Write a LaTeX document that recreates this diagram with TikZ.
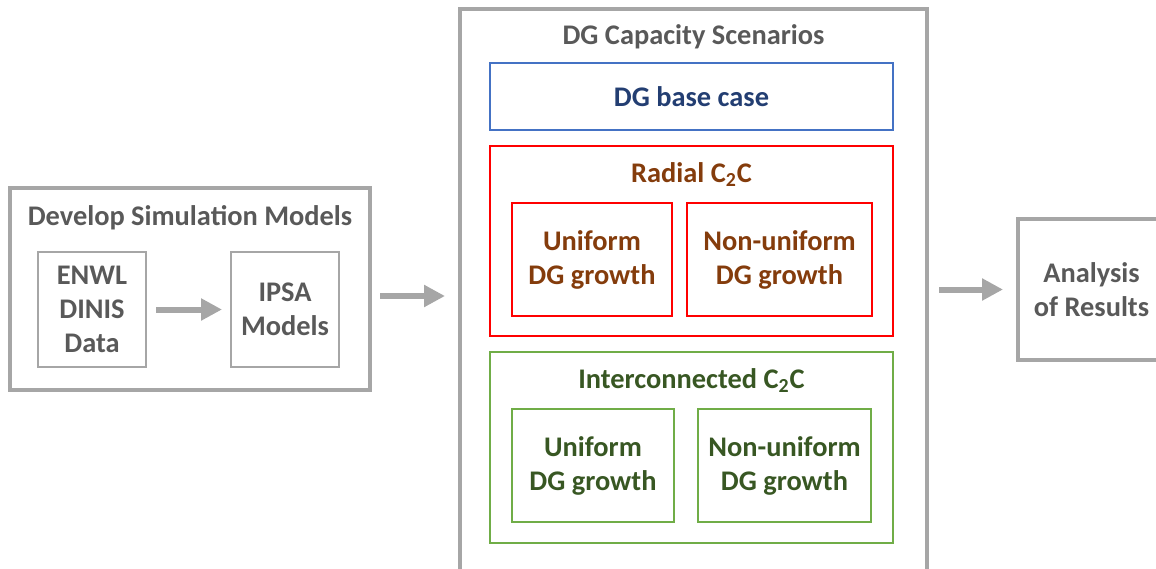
\documentclass[tikz,border=0pt]{standalone}
\usepackage{fontspec}
\setmainfont{Carlito}
\usetikzlibrary{positioning, arrows.meta}
\definecolor{boxGrey}{RGB}{166,166,166}
\definecolor{textGrey}{RGB}{89,89,89}
\definecolor{baseBlue}{RGB}{68,114,196}
\definecolor{baseText}{RGB}{35,62,114}
\definecolor{radialRed}{RGB}{255,0,0}
\definecolor{radialText}{RGB}{132,60,12}
\definecolor{interGreen}{RGB}{112,173,71}
\definecolor{interText}{RGB}{56,87,35}

\begin{document}
\begin{tikzpicture}[
  x=0.5pt, y=-0.5pt,
  font=\bfseries\fontsize{14.2}{17}\selectfont,
  outerbox/.style={draw=boxGrey, line width=2pt, inner sep=0pt},
  greybox/.style={draw=boxGrey, line width=1pt, text=textGrey, align=center, inner sep=0pt},
  basebox/.style={draw=baseBlue, line width=1pt, text=baseText, align=center, inner sep=0pt},
  redbox/.style={draw=radialRed, line width=1pt, text=radialText, align=center, inner sep=0pt},
  greenbox/.style={draw=interGreen, line width=1pt, text=interText, align=center, inner sep=0pt},
  heading/.style={anchor=base, inner sep=0pt},
  flow/.style={draw=boxGrey, line width=3pt, -{Triangle[length=10.5pt, width=10.5pt]}},
]
% canvas in pixels of the reference (y grows downwards)
\useasboundingbox (0,0) rectangle (1156,568);
\clip (0,0) rectangle (1156,568);

% Develop simulation models
\node[outerbox, minimum width=180pt, minimum height=101pt] (develop) at (190,289) {};
\node[heading, text=textGrey] (devtitle) at (190,225) {Develop Simulation Models};
\node[greybox, minimum width=54pt, minimum height=57.5pt] (enwl) at (92,309.5) {ENWL\\DINIS\\Data};
\node[greybox, minimum width=54pt, minimum height=57.5pt] (ipsa) at (285,309.5) {IPSA\\Models};

% DG capacity scenarios
\node[outerbox, minimum width=233.5pt, minimum height=295.5pt] (scen) at (693.5,304.5) {};
\node[heading, text=textGrey] (scentitle) at (693.5,44) {DG Capacity Scenarios};
\node[basebox, minimum width=201.5pt, minimum height=33.5pt] (base) at (691.5,96.5) {DG base case};

% Radial C2C
\node[redbox, minimum width=201.5pt, minimum height=95pt] (radial) at (691.5,241) {};
\node[heading, text=radialText] (radtitle) at (691.5,182) {Radial C\textsubscript{2}C};
\node[redbox, minimum width=80pt, minimum height=56.5pt] (radunif) at (592,259.5) {Uniform\\DG growth};
\node[redbox, minimum width=92.5pt, minimum height=56.5pt] (radnonunif) at (779.5,259.5) {Non-uniform\\DG growth};

% Interconnected C2C
\node[greenbox, minimum width=201.5pt, minimum height=95.5pt] (inter) at (691.5,447.5) {};
\node[heading, text=interText] (intertitle) at (691.5,388) {Interconnected C\textsubscript{2}C};
\node[greenbox, minimum width=81pt, minimum height=56.5pt] (intunif) at (593,465.5) {Uniform\\DG growth};
\node[greenbox, minimum width=86.5pt, minimum height=56.5pt] (intnonunif) at (784.5,465.5) {Non-uniform\\DG growth};

% Analysis
\node[outerbox, text=textGrey, align=center, minimum width=73.5pt, minimum height=70.5pt] (analysis) at (1091.5,289.5) {Analysis\\of Results};

% arrows
\draw[flow, shorten <=4.5pt, shorten >=4pt] (enwl) -- (ipsa);
\draw[flow, shorten <=4pt, shorten >=6.5pt] ([yshift=-3.5pt]develop.east) -- ([yshift=-3.5pt]develop.east -| scen.west);
\draw[flow, shorten <=5pt, shorten >=6.5pt] (scen.east |- analysis) -- (analysis.west);
\end{tikzpicture}
\end{document}
